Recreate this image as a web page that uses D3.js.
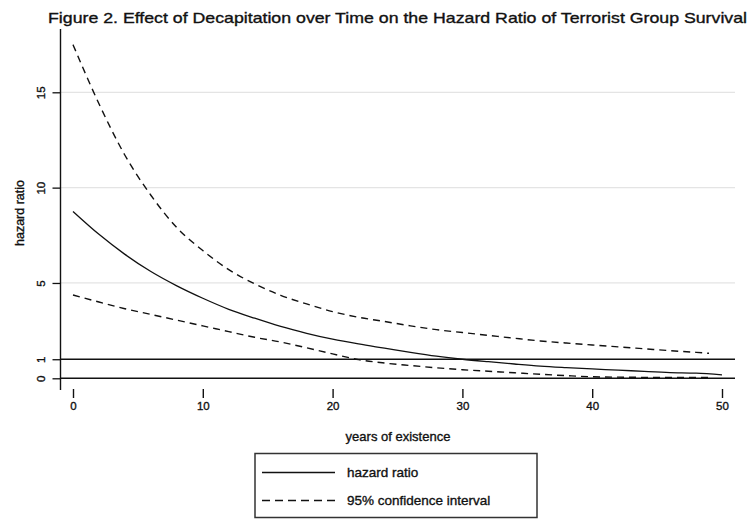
<!DOCTYPE html>
<html>
<head>
<meta charset="utf-8">
<script src="https://d3js.org/d3.v7.min.js"></script>
<style>
  body { margin: 0; background: #fff; }
  text { font-family: "Liberation Sans", Arial, sans-serif; fill: #111; stroke: #111; stroke-width: 0.35px; }
</style>
</head>
<body>
<div class="chart"></div>
<script>

// years since group formation
var years = [0, 2, 4, 6, 8, 10, 12, 14, 16, 18, 20, 22, 24, 26, 28, 30, 32, 34, 36, 38, 40, 42, 44, 46, 48, 50];

// hazard ratio (solid line)
var hazard = [8.75, 7.55, 6.5, 5.6, 4.85, 4.2, 3.62, 3.15, 2.72, 2.36, 2.05, 1.8, 1.58, 1.36, 1.16, 1.0, 0.87, 0.75, 0.64, 0.56, 0.49, 0.43, 0.36, 0.3, 0.27, 0.18];

// 95% confidence interval (dashed)
var ciYears = [0, 2, 4, 6, 8, 10, 12, 14, 16, 18, 20, 22, 24, 26, 28, 30, 32, 34, 36, 38, 40, 42, 44, 46, 48, 49];
var ciUpper = [17.5, 14.4, 11.7, 9.6, 7.9, 6.7, 5.7, 4.95, 4.35, 3.9, 3.5, 3.2, 2.98, 2.75, 2.55, 2.4, 2.25, 2.1, 1.96, 1.85, 1.75, 1.65, 1.55, 1.45, 1.36, 1.31];
var ciLower = [4.37, 4.0, 3.65, 3.35, 3.05, 2.75, 2.45, 2.15, 1.9, 1.6, 1.28, 0.98, 0.8, 0.67, 0.55, 0.45, 0.37, 0.29, 0.21, 0.14, 0.08, 0.06, 0.05, 0.05, 0.05, 0.05];

// axis ticks and reference lines
var yTicks = [0, 1, 5, 10, 15];
var yGrid = [5, 10, 15];
var refLines = [0, 1];
var xTicks = [0, 10, 20, 30, 40, 50];

var svgWidth = 748;
var svgHeight = 521;

var svg = d3.select(".chart")
  .append("svg")
  .attr("width", svgWidth)
  .attr("height", svgHeight);

// scales (plot area)
var axisX = 60.5;
var rightEdge = 735;
var xScale = d3.scaleLinear().domain([0, 50]).range([73, 722]);
var yScale = d3.scaleLinear().domain([0, 15]).range([378.3, 92.3]);

// title
svg.append("text")
  .attr("x", 48)
  .attr("y", 23)
  .attr("font-size", 15)
  .attr("textLength", 699)
  .attr("lengthAdjust", "spacingAndGlyphs")
  .text("Figure 2. Effect of Decapitation over Time on the Hazard Ratio of Terrorist Group Survival");

// light gridlines
svg.selectAll(".grid")
  .data(yGrid)
  .enter()
  .append("line")
  .attr("class", "grid")
  .attr("x1", axisX)
  .attr("x2", rightEdge)
  .attr("y1", function(d) { return yScale(d); })
  .attr("y2", function(d) { return yScale(d); })
  .attr("stroke", "#e4e4e4")
  .attr("stroke-width", 1.3);

// y axis, with rotated labels like Stata does
var leftAxis = d3.axisLeft(yScale)
  .tickValues(yTicks)
  .tickSize(8)
  .tickPadding(4)
  .tickSizeOuter(0);

var yAxis = svg.append("g")
  .attr("transform", "translate(" + axisX + ",0)")
  .call(leftAxis);

yAxis.select(".domain").remove();
yAxis.selectAll("line").attr("stroke", "#111").attr("stroke-width", 1.3);
yAxis.selectAll("text")
  .attr("transform", "rotate(-90)")
  .attr("x", 0)
  .attr("y", -20)
  .attr("dy", "0.35em")
  .attr("text-anchor", "middle")
  .attr("font-size", 11.5)
  .attr("font-family", "Liberation Sans, Arial, sans-serif")
  .attr("fill", "#111");

svg.append("line")
  .attr("x1", axisX)
  .attr("x2", axisX)
  .attr("y1", 29)
  .attr("y2", 390)
  .attr("stroke", "#111")
  .attr("stroke-width", 1.4);

// y axis title
svg.append("text")
  .attr("transform", "translate(24,213) rotate(-90)")
  .attr("text-anchor", "middle")
  .attr("font-size", 12.5)
  .text("hazard ratio");

// x axis: ticks hang below, no axis line
var bottomAxis = d3.axisBottom(xScale)
  .tickValues(xTicks)
  .tickSize(9)
  .tickPadding(4)
  .tickSizeOuter(0);

var xAxis = svg.append("g")
  .attr("transform", "translate(0,389)")
  .call(bottomAxis);

xAxis.select(".domain").remove();
xAxis.selectAll("line").attr("stroke", "#111").attr("stroke-width", 1.4);
xAxis.selectAll("text")
  .attr("font-size", 11.5)
  .attr("font-family", "Liberation Sans, Arial, sans-serif")
  .attr("fill", "#111");

svg.append("text")
  .attr("x", 398)
  .attr("y", 441)
  .attr("text-anchor", "middle")
  .attr("font-size", 13)
  .text("years of existence");

// reference lines at 0 and 1
svg.selectAll(".ref")
  .data(refLines)
  .enter()
  .append("line")
  .attr("class", "ref")
  .attr("x1", axisX)
  .attr("x2", rightEdge)
  .attr("y1", function(d) { return yScale(d); })
  .attr("y2", function(d) { return yScale(d); })
  .attr("stroke", "#111")
  .attr("stroke-width", 1.5);

// lines
function makeLine(xs) {
  return d3.line()
    .x(function(d, i) { return xScale(xs[i]); })
    .y(function(d) { return yScale(d); })
    .curve(d3.curveMonotoneX);
}

svg.append("path")
  .datum(ciUpper)
  .attr("d", makeLine(ciYears))
  .attr("fill", "none")
  .attr("stroke", "#111")
  .attr("stroke-width", 1.4)
  .attr("stroke-dasharray", "7,5");

svg.append("path")
  .datum(ciLower)
  .attr("d", makeLine(ciYears))
  .attr("fill", "none")
  .attr("stroke", "#111")
  .attr("stroke-width", 1.4)
  .attr("stroke-dasharray", "7,5");

svg.append("path")
  .datum(hazard)
  .attr("d", makeLine(years))
  .attr("fill", "none")
  .attr("stroke", "#111")
  .attr("stroke-width", 1.3);

// legend
var legend = svg.append("g");

legend.append("rect")
  .attr("x", 255)
  .attr("y", 453.5)
  .attr("width", 282)
  .attr("height", 64)
  .attr("fill", "#fff")
  .attr("stroke", "#333")
  .attr("stroke-width", 1.5);

var legendItems = [
  { label: "hazard ratio", dash: null, y: 472.5 },
  { label: "95% confidence interval", dash: "8,5", y: 500.5 }
];

legendItems.forEach(function(item) {
  legend.append("line")
    .attr("x1", 262)
    .attr("x2", 335)
    .attr("y1", item.y)
    .attr("y2", item.y)
    .attr("stroke", "#111")
    .attr("stroke-width", 1.4)
    .attr("stroke-dasharray", item.dash);
  legend.append("text")
    .attr("x", 347)
    .attr("y", item.y)
    .attr("dy", "0.35em")
    .attr("font-size", 13.5)
    .text(item.label);
});

</script>
</body>
</html>
